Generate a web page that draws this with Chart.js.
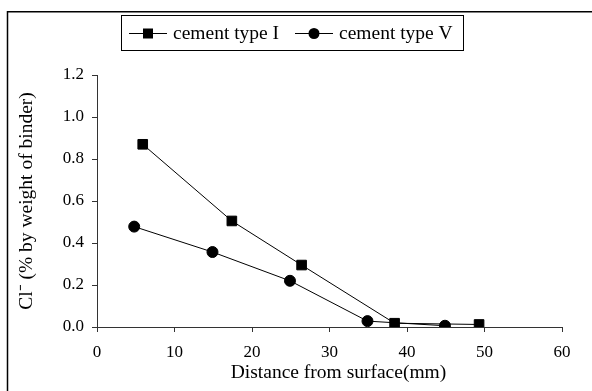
<html>
<head>
<script src="https://cdn.jsdelivr.net/npm/chart.js@4.4.1/dist/chart.umd.min.js"></script>
<style>
    body { margin: 0; background: #fff; }
</style>
</head>
<body>
<canvas id="myChart" width="592" height="391"></canvas>
<script>
    // depth (mm) and chloride content (% by weight of binder)
    var distTypeI = [5.9, 17.4, 26.4, 38.4, 49.3];
    var clTypeI   = [0.87, 0.505, 0.295, 0.018, 0.012];
    var distTypeV = [4.8, 14.9, 24.9, 34.9, 44.9];
    var clTypeV   = [0.478, 0.357, 0.22, 0.028, 0.006];
    var seriesNames = ['cement type I', 'cement type V'];
    var xTicks = [0, 10, 20, 30, 40, 50, 60];
    var yTicks = [0, 0.2, 0.4, 0.6, 0.8, 1.0, 1.2];
    var xTitle = 'Distance from surface(mm)';
    var yTitle = 'Cl\u207B (% by weight of binder)';

    var toPoints = (xs, ys) => xs.map((x, i) => ({x: x, y: ys[i]}));
    var serif = 'Liberation Serif, Times New Roman, serif';

    // frame round the whole figure (only top and left edges show)
    var framePlugin = {
        id: 'frame',
        beforeDraw: function(chart) {
            var ctx = chart.ctx;
            ctx.save();
            ctx.strokeStyle = '#000';
            ctx.lineWidth = 1.5;
            ctx.beginPath();
            ctx.moveTo(7.5, 391);
            ctx.lineTo(7.5, 11.75);
            ctx.lineTo(592, 11.75);
            ctx.stroke();
            ctx.restore();
        }
    };

    // x title sits a little right of the axis centre
    var xTitlePlugin = {
        id: 'xTitle',
        afterDraw: function(chart) {
            var ctx = chart.ctx;
            var area = chart.chartArea;
            ctx.save();
            ctx.fillStyle = '#000';
            ctx.font = '19.5px ' + serif;
            ctx.textAlign = 'center';
            ctx.textBaseline = 'middle';
            ctx.fillText(xTitle, (area.left + area.right) / 2 + 9, 373);
            ctx.restore();
        }
    };

    // boxed legend with line + marker samples
    var legendBox = {
        id: 'legendBox',
        afterDraw: function(chart) {
            var ctx = chart.ctx;
            var items = [{x0: 129, x1: 167, tx: 173}, {x0: 295, x1: 333, tx: 339}];
            var cy = 33;
            ctx.save();
            ctx.strokeStyle = '#000';
            ctx.lineWidth = 1;
            ctx.strokeRect(121.5, 15.5, 342, 35);
            chart.data.datasets.forEach(function(ds, i) {
                var it = items[i];
                ctx.beginPath();
                ctx.moveTo(it.x0, cy + 0.5);
                ctx.lineTo(it.x1, cy + 0.5);
                ctx.stroke();
                ctx.fillStyle = '#000';
                var mx = (it.x0 + it.x1) / 2;
                if (ds.pointStyle === 'rect') {
                    ctx.fillRect(mx - 5, cy - 4.5, 10, 10);
                } else {
                    ctx.beginPath();
                    ctx.arc(mx, cy + 0.5, 5.5, 0, Math.PI * 2);
                    ctx.fill();
                }
                ctx.font = '19.5px ' + serif;
                ctx.textBaseline = 'middle';
                ctx.fillText(ds.label, it.tx, cy + 1);
            });
            ctx.restore();
        }
    };

    var ctx = document.getElementById('myChart').getContext('2d');
    var chart = new Chart(ctx, {
        type: 'scatter',
        data: {
            datasets: [{
                label: seriesNames[0],
                data: toPoints(distTypeI, clTypeI),
                showLine: true,
                borderColor: '#000',
                borderWidth: 1,
                backgroundColor: '#000',
                pointStyle: 'rect',
                pointRadius: 6.8,
                pointBorderWidth: 1
            }, {
                label: seriesNames[1],
                data: toPoints(distTypeV, clTypeV),
                showLine: true,
                borderColor: '#000',
                borderWidth: 1,
                backgroundColor: '#000',
                pointStyle: 'circle',
                pointRadius: 5.5,
                pointBorderWidth: 1
            }]
        },
        options: {
            responsive: false,
            animation: false,
            devicePixelRatio: 1,
            layout: { padding: { left: 0, top: 75, right: 30, bottom: 0 } },
            plugins: {
                legend: { display: false },
                tooltip: { enabled: false }
            },
            scales: {
                x: {
                    type: 'linear',
                    min: 0, max: 60,
                    afterFit: s => { s.height = 64; },
                    afterBuildTicks: s => { s.ticks = xTicks.map(v => ({value: v})); },
                    grid: { drawOnChartArea: false, drawTicks: true, tickLength: 5, color: '#333' },
                    border: { display: true, color: '#333', width: 1 },
                    ticks: { color: '#000', padding: 10, maxRotation: 0, font: { family: serif, size: 17 } }
                },
                y: {
                    type: 'linear',
                    min: 0, max: 1.2,
                    afterFit: s => { s.width = 97; },
                    afterBuildTicks: s => { s.ticks = yTicks.map(v => ({value: v})); },
                    grid: { drawOnChartArea: false, drawTicks: true, tickLength: 5, color: '#333' },
                    border: { display: true, color: '#333', width: 1 },
                    ticks: { color: '#000', padding: 8, font: { family: serif, size: 17 },
                             callback: v => v.toFixed(1) },
                    title: { display: true, text: yTitle, color: '#000',
                             padding: { top: 15, bottom: 0 }, font: { family: serif, size: 19.5 } }
                }
            }
        },
        plugins: [framePlugin, legendBox, xTitlePlugin]
    });
</script>
</body>
</html>
